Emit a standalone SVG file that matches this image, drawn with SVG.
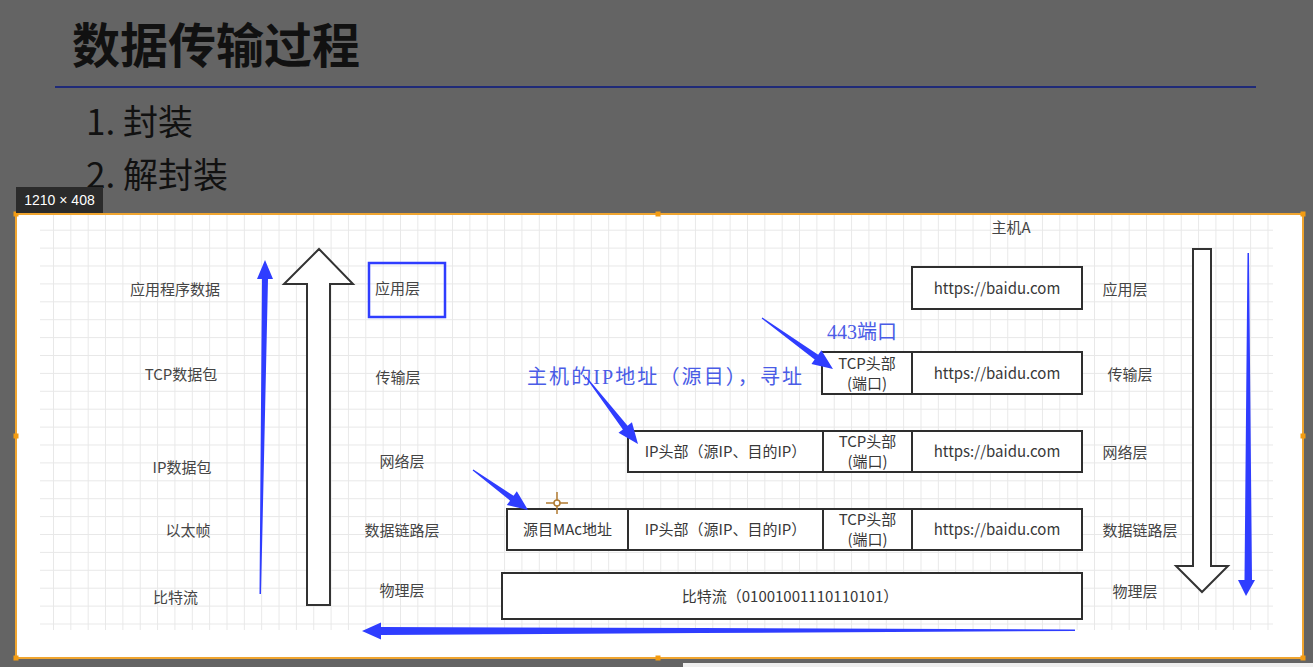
<svg xmlns="http://www.w3.org/2000/svg" width="1313" height="667" viewBox="0 0 1313 667">
<defs>
<style>
.lbl{font-family:"Noto Sans CJK SC","Noto Sans",sans-serif;font-size:15px;fill:#454545;text-anchor:middle}
.btxt{font-family:"Noto Sans CJK SC","Noto Sans",sans-serif;font-size:15px;fill:#383838;text-anchor:middle}
.box{fill:#fff;stroke:#2e2e2e;stroke-width:2}
.hollow{fill:#fff;stroke:#333;stroke-width:2;stroke-linejoin:miter}
.blue{fill:#2f3dff}
.note{font-family:"Liberation Serif","Noto Sans CJK SC",serif;font-size:20px;fill:#4a5ce6}
.handle{fill:#f39c12}
</style>
<pattern id="grid" patternUnits="userSpaceOnUse" x="53" y="229.7" width="17.35" height="17.9">
<rect x="0" y="0" width="1" height="17.9" fill="#e8e8e8"/>
<rect x="0" y="0" width="17.35" height="1" fill="#e8e8e8"/>
</pattern>
</defs>
<rect width="1313" height="667" fill="#646464"/>
<g id="title">
<text x="72" y="63" font-family="Noto Sans CJK SC,sans-serif" font-size="48" font-weight="bold" fill="#111">数据传输过程</text>
<rect x="55" y="86" width="1201" height="2" fill="#1f2a78"/>
<text x="86" y="135" font-family="Noto Sans CJK SC,sans-serif" font-size="35" fill="#111">1. 封装</text>
<text x="86" y="188" font-family="Noto Sans CJK SC,sans-serif" font-size="35" fill="#111">2. 解封装</text>
</g>
<rect x="683" y="663" width="630" height="4" fill="#eeeeee"/>
<g id="panel">
<rect x="16" y="214" width="1287" height="444" fill="#ffffff" stroke="#f0a530" stroke-width="2"/>
<rect x="40" y="215" width="1233" height="415" fill="url(#grid)"/>
<rect class="handle" x="13.5" y="211.5" width="5" height="5"/>
<rect class="handle" x="655.5" y="211.5" width="5" height="5"/>
<rect class="handle" x="1300.5" y="211.5" width="5" height="5"/>
<rect class="handle" x="13.5" y="433.5" width="5" height="5"/>
<rect class="handle" x="1300.5" y="433.5" width="5" height="5"/>
<rect class="handle" x="13.5" y="655.5" width="5" height="5"/>
<rect class="handle" x="655.5" y="655.5" width="5" height="5"/>
<rect class="handle" x="1300.5" y="655.5" width="5" height="5"/>
</g>
<g id="size-badge">
<rect x="16" y="187" width="87" height="26" fill="#2b2b2b"/>
<text x="59.5" y="205" font-family="Liberation Sans,sans-serif" font-size="14" fill="#fff" text-anchor="middle">1210 × 408</text>
</g>
<g id="left-labels">
<text class="lbl" x="175" y="294.5">应用程序数据</text>
<text class="lbl" x="181" y="379.5">TCP数据包</text>
<text class="lbl" x="182" y="472.5">IP数据包</text>
<text class="lbl" x="188" y="535.5">以太帧</text>
<text class="lbl" x="175.5" y="602.5">比特流</text>
</g>
<g id="mid-labels">
<rect x="369" y="263" width="76" height="54" fill="none" stroke="#2f3dff" stroke-width="2.5"/>
<text class="lbl" x="397.5" y="293.5">应用层</text>
<text class="lbl" x="398" y="382.5">传输层</text>
<text class="lbl" x="402" y="466.5">网络层</text>
<text class="lbl" x="402" y="535.5">数据链路层</text>
<text class="lbl" x="402" y="595.5">物理层</text>
</g>
<g id="right-labels">
<text class="lbl" x="1011" y="232.5">主机A</text>
<text class="lbl" x="1125" y="294.5">应用层</text>
<text class="lbl" x="1130" y="379.5">传输层</text>
<text class="lbl" x="1125" y="457.5">网络层</text>
<text class="lbl" x="1140" y="535.5">数据链路层</text>
<text class="lbl" x="1135" y="596.5">物理层</text>
</g>
<g id="row-app">
<rect class="box" x="912" y="267" width="170" height="42"/>
<text class="btxt" x="997" y="294">https://baidu.com</text>
</g>
<g id="row-transport">
<rect class="box" x="822" y="352" width="90" height="42"/>
<text class="btxt" x="867" y="368.5">TCP头部</text>
<text class="btxt" x="867" y="388.5">(端口)</text>
<rect class="box" x="912" y="352" width="170" height="42"/>
<text class="btxt" x="997" y="378.5">https://baidu.com</text>
</g>
<g id="row-network">
<rect class="box" x="628" y="431" width="195" height="41"/>
<text class="btxt" x="725.5" y="457">IP头部（源IP、目的IP）</text>
<rect class="box" x="823" y="431" width="89" height="41"/>
<text class="btxt" x="867.5" y="446.5">TCP头部</text>
<text class="btxt" x="867.5" y="466.5">(端口)</text>
<rect class="box" x="912" y="431" width="170" height="41"/>
<text class="btxt" x="997" y="457">https://baidu.com</text>
</g>
<g id="row-datalink">
<rect class="box" x="507" y="509" width="121" height="41"/>
<text class="btxt" x="567.5" y="535">源目MAc地址</text>
<rect class="box" x="628" y="509" width="195" height="41"/>
<text class="btxt" x="725.5" y="535">IP头部（源IP、目的IP）</text>
<rect class="box" x="823" y="509" width="89" height="41"/>
<text class="btxt" x="867.5" y="525">TCP头部</text>
<text class="btxt" x="867.5" y="545">(端口)</text>
<rect class="box" x="912" y="509" width="170" height="41"/>
<text class="btxt" x="997" y="535">https://baidu.com</text>
</g>
<g id="row-physical">
<rect class="box" x="502" y="573" width="580" height="46"/>
<text class="btxt" x="790" y="601.5">比特流（01001001110110101）</text>
</g>
<g id="notes">
<text class="note" x="827" y="339">443端口</text>
<text class="note" x="527" y="384" textLength="275">主机的IP地址（源目），寻址</text>
</g>
<g id="connectors">
<polygon class="hollow" points="319,249 353,284 330,284 330,605 307,605 307,284 284,284"/>
<polygon class="hollow" points="1193,249 1211,249 1211,566 1228,566 1202,592 1176,566 1193,566"/>
<polygon class="blue" points="265,260 273,279 268,279 261,594 259.5,594 262,279 257,279"/>
<polygon class="blue" points="1247.5,253 1249,253 1252,580 1255,580 1246,596 1238,580 1244.5,580"/>
<polygon class="blue" points="362,631 381,622.5 381,627 700,628 1075,629.5 1075,631 700,633 381,635 381,639.5"/>
<polygon class="blue" transform="translate(762,318) rotate(35.7)" points="0,-0.6 67,-3 67,-8.5 87.4,0 67,8.5 67,3 0,0.6"/>
<polygon class="blue" transform="translate(586,377) rotate(52.2)" points="0,-0.6 64,-3 64,-8.5 84.8,0 64,8.5 64,3 0,0.6"/>
<polygon class="blue" transform="translate(473,470) rotate(36)" points="0,-0.6 48,-3 48,-8.5 68,0 48,8.5 48,3 0,0.6"/>
</g>
<g id="cursor" stroke="#b07a30" stroke-width="1.5" fill="none">
<line x1="546" y1="503" x2="568" y2="503"/>
<line x1="557" y1="492" x2="557" y2="514"/>
<circle cx="557" cy="503" r="3" fill="#fff"/>
</g>
</svg>
